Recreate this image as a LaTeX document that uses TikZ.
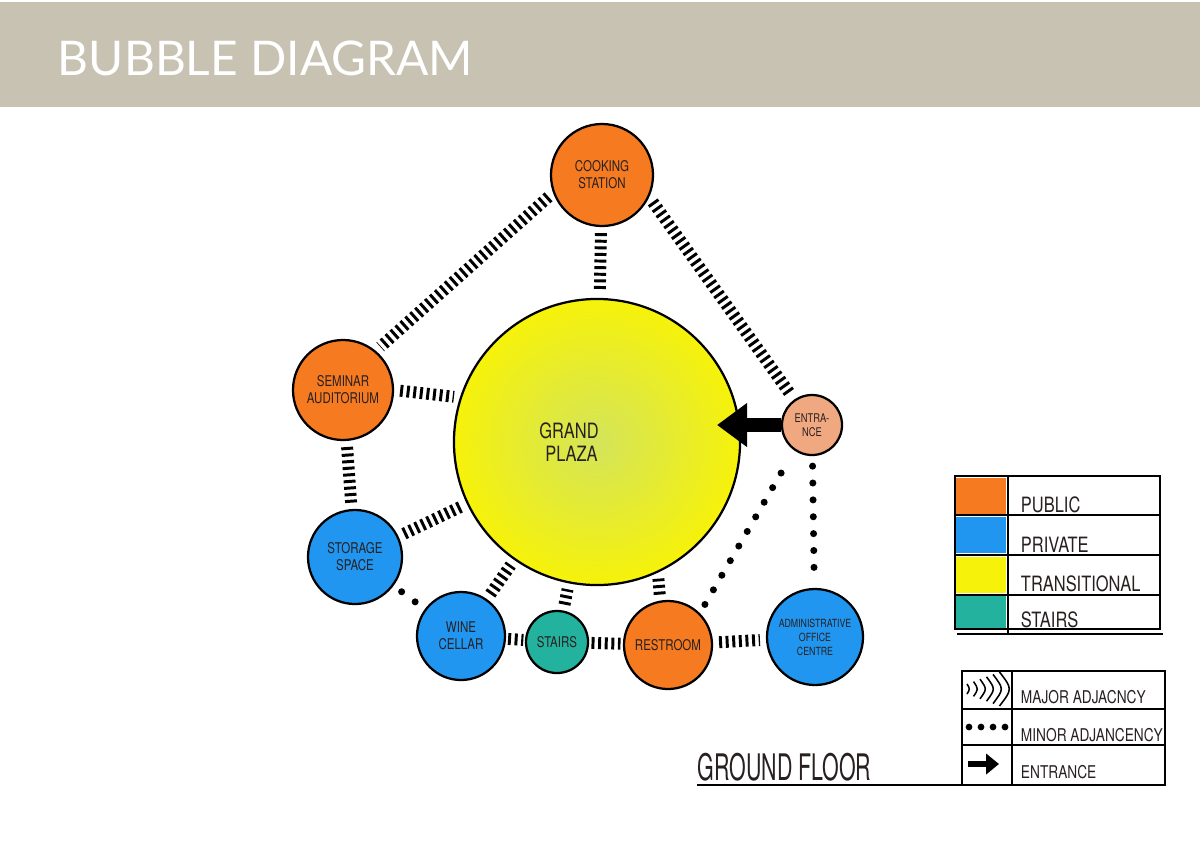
\documentclass[tikz,border=0pt]{standalone}
\usepackage{fontspec}
\setmainfont{TeX Gyre Heros}
\newfontfamily\handfont[FakeStretch=0.78]{TeX Gyre Heros}
\newfontfamily\titlefont{Lato}
\usetikzlibrary{arrows.meta}
\definecolor{bannerC}{RGB}{200,194,179}
\definecolor{publicC}{RGB}{246,122,32}
\definecolor{privateC}{RGB}{32,150,240}
\definecolor{transC}{RGB}{246,242,10}
\definecolor{plazaIn}{RGB}{212,228,90}
\definecolor{stairsC}{RGB}{34,178,158}
\definecolor{entryC}{RGB}{240,168,128}
\definecolor{inkC}{RGB}{40,32,32}

\begin{document}
\begin{tikzpicture}[
x=0.025cm, y=-0.025cm,
    bubble/.style={draw=black, circle, line width=1.6pt, minimum size=#1, inner sep=0pt, align=center, text=inkC, font=\handfont\fontsize{10.5}{12}\selectfont},
    major/.style={draw=black, line width=8.5pt, dash pattern=on 2.1pt off 2.6pt, shorten >=0.15cm, shorten <=0.15cm},
    minor/.style={draw=black, line width=5pt, line cap=round, dash pattern=on 0pt off 12pt, shorten >=0.25cm, shorten <=0.25cm},
    entry/.style={draw=black, line width=0.35cm, -{Triangle[length=0.75cm, width=1.05cm]}},
    swatch/.style={rectangle, minimum width=1.25cm, minimum height=0.92cm, inner sep=0pt},
    keyline/.style={draw=black, line width=0.9pt},
    keytext/.style={anchor=west, text=inkC, font=\handfont\fontsize{15}{15}\selectfont}
]
    \useasboundingbox[fill=white] (0,0) rectangle (1200,849);

    % --- Banner ---
    \fill[bannerC] (0,2) rectangle (1200,107);
    \node[anchor=west, text=white, font=\titlefont\fontsize{34}{34}\selectfont] (title) at (53,58) {BUBBLE DIAGRAM};

    % --- Bubbles ---
    \node[bubble=7.15cm, inner color=plazaIn, outer color=transC,
          label={[xshift=-0.7cm, align=left, text=inkC, font=\handfont\fontsize{15}{16}\selectfont]center:GRAND\\\hspace*{0.15cm}PLAZA}] (plaza) at (597,442) {};
    \node[bubble=2.55cm, fill=publicC] (cooking) at (602,175) {COOKING\\STATION};
    \node[bubble=2.5cm, fill=publicC] (seminar) at (343,390) {SEMINAR\\AUDITORIUM};
    \node[bubble=2.35cm, fill=privateC] (storage) at (355,557) {STORAGE\\SPACE};
    \node[bubble=2.2cm, fill=privateC] (wine) at (461,636) {WINE\\CELLAR};
    \node[bubble=1.55cm, fill=stairsC] (stairs) at (557,642) {STAIRS};
    \node[bubble=2.2cm, fill=publicC] (restroom) at (668,645) {RESTROOM};
    \node[bubble=2.4cm, fill=privateC, font=\handfont\fontsize{8}{10}\selectfont] (admin) at (815,637) {ADMINISTRATIVE\\OFFICE\\CENTRE};
    \node[bubble=1.5cm, fill=entryC, font=\handfont\fontsize{8.5}{10}\selectfont] (entrance) at (812,425) {ENTRA-\\NCE};

    % --- Major adjacency ---
    \draw[major] (cooking.200) -- (seminar.50);
    \draw[major] (cooking) -- (plaza);
    \draw[major] (cooking.-25) -- (entrance.125);
    \draw[major] (seminar.east) -- (plaza.162);
    \draw[major] (seminar) -- (storage);
    \draw[major] (storage) -- (plaza);
    \draw[major] (wine) -- (plaza);
    \draw[major, shorten >=0.04cm, shorten <=0.05cm] (wine) -- (stairs);
    \draw[major] (stairs) -- (plaza);
    \draw[major, shorten >=0.06cm, shorten <=0.06cm] (stairs) -- (restroom);
    \draw[major] (restroom.100) -- (plaza.-65);
    \draw[major] (restroom) -- (admin);

    % --- Minor adjacency ---
    \draw[minor] (storage) -- (wine);
    \draw[minor] (restroom.45) -- (entrance.-125);
    \draw[minor] (entrance) -- (admin);

    % --- Entrance arrow ---
    \coordinate (door) at (717,425);
    \draw[entry] (entrance.west) -- (door);

    % --- Colour key ---
    \node[swatch, fill=publicC] (kpublic) at (981,496) {};
    \node[swatch, fill=privateC] (kprivate) at (981,535) {};
    \node[swatch, fill=transC] (ktrans) at (981,575) {};
    \node[swatch, fill=stairsC] (kstairs) at (981,612) {};
    \draw[keyline] (955,476) rectangle (1160,629);
    \draw[keyline] (955,515) -- (1160,515);
    \draw[keyline] (955,555) -- (1160,555);
    \draw[keyline] (955,595) -- (1160,595);
    \draw[keyline] (1008,476) -- (1008,634);
    \draw[keyline] (957,634) -- (1163,634);
    \node[keytext] (tpublic) at (1016,505) {PUBLIC};
    \node[keytext] (tprivate) at (1016,545) {PRIVATE};
    \node[keytext] (ttrans) at (1016,584) {TRANSITIONAL};
    \node[keytext] (tstairs) at (1016,620) {STAIRS};

    % --- Line key ---
    \draw[keyline] (962,671) rectangle (1165,785);
    \draw[keyline] (962,709) -- (1165,709);
    \draw[keyline] (962,745) -- (1165,745);
    \draw[keyline] (1012,671) -- (1012,785);
    \foreach \i in {0,...,5}
        \draw[line width=1.1pt] (967+6.5*\i, 689-5-2.4*\i) .. controls (970+6.5*\i+2*\i, 689) .. (967+6.5*\i, 689+5+2.4*\i);
    \foreach \i in {0,...,3}
        \fill (969+12*\i, 727) circle (2.4pt);
    \draw[line width=0.13cm, -{Triangle[length=0.32cm, width=0.5cm]}] (968,764) -- (999,764);
    \node[keytext, font=\handfont\fontsize{12.5}{13}\selectfont] (tmajor) at (1016,697) {MAJOR ADJACNCY};
    \node[keytext, font=\handfont\fontsize{12.5}{13}\selectfont] (tminor) at (1016,735) {MINOR ADJANCENCY};
    \node[keytext, font=\handfont\fontsize{12.5}{13}\selectfont] (tentry) at (1016,772) {ENTRANCE};

    % --- Floor caption ---
    \node[anchor=west, xscale=0.75, text=inkC, font=\handfont\fontsize{26}{26}\selectfont] (floor) at (694,767) {GROUND FLOOR};
    \draw[keyline] (697,785) -- (962,785);

\end{tikzpicture}
\end{document}
